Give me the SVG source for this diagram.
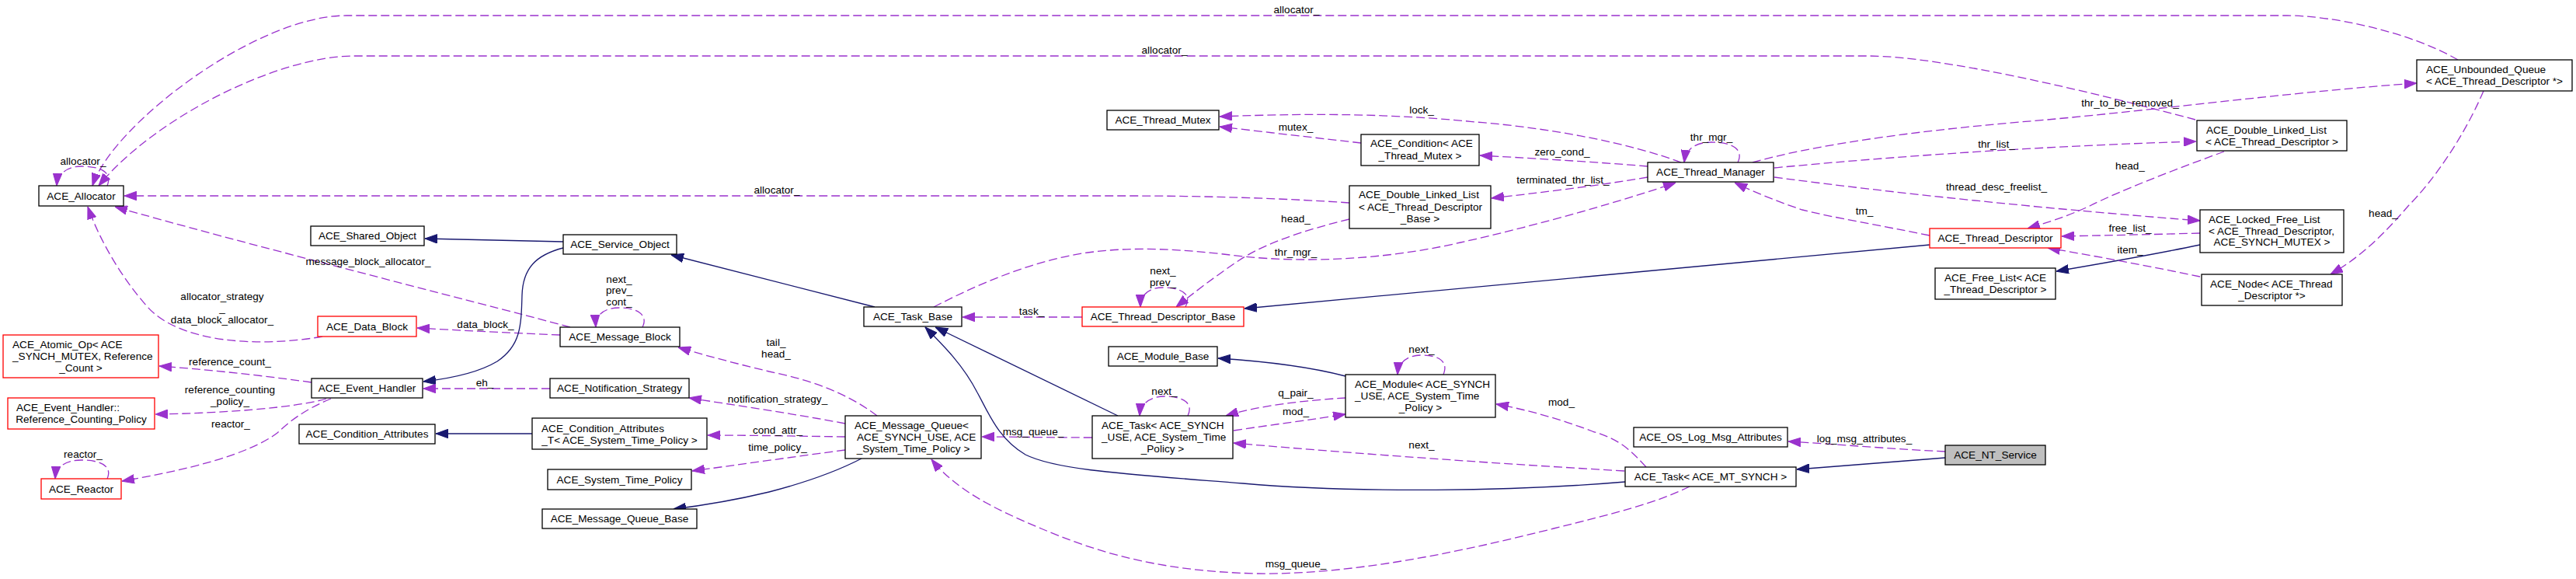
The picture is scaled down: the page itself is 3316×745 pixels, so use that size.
<svg xmlns="http://www.w3.org/2000/svg" width="3316" height="745" viewBox="0 0 3316 745">
<style>
text{font-family:"Liberation Sans",Arial,Helvetica,sans-serif;font-size:13.6px;fill:#000}
.n rect{fill:#fff;stroke:#000;stroke-width:1.3}
.r rect{stroke:#f00}
.g rect{fill:#bfbfbf}
.c{text-anchor:middle}
.s{text-anchor:start}
.u{fill:none;stroke:#9a32cd;stroke-width:1.3;stroke-dasharray:11,5;marker-end:url(#au)}
.i{fill:none;stroke:#191970;stroke-width:1.3;marker-end:url(#ai)}
.lbl text{text-anchor:middle}
</style>
<defs>
<marker id="au" markerUnits="userSpaceOnUse" markerWidth="16" markerHeight="12" refX="14" refY="5" orient="auto" viewBox="0 0 14 10"><path d="M0,0L14,5L0,10z" fill="#9a32cd" stroke="#9a32cd" stroke-width="1"/></marker>
<marker id="ai" markerUnits="userSpaceOnUse" markerWidth="16" markerHeight="12" refX="14" refY="5" orient="auto" viewBox="0 0 14 10"><path d="M0,0L14,5L0,10z" fill="#191970" stroke="#191970" stroke-width="1"/></marker>
</defs>
<rect width="3316" height="745" fill="#fff"/>
<g id="edges">
<path class="u" d="M138,239 C145,222 130,214 105,214 C86,214 74,224 73,239"/>
<path class="u" d="M3164,77 C3100,40 3000,20 2944,20 L446,20 C330,20 145,160 119,239"/>
<path class="u" d="M2826,154 C2700,120 2500,72 2405,72 L455,72 C360,72 200,150 127,239"/>
<path class="u" d="M1737,261 C1650,255 1550,252 1450,252 L160,252"/>
<path class="u" d="M734,421 C600,385 300,310 148,266"/>
<path class="u" d="M415,433 C330,448 230,440 190,395 C150,350 125,300 113,266"/>
<path class="u" d="M721,431 C650,428 590,425 537,422"/>
<path class="u" d="M827,421 C835,405 820,396 797,396 C778,396 766,405 767,421"/>
<path class="i" d="M725,311 L547,307"/>
<path class="i" d="M725,319 C690,328 673,345 672,380 C671,420 670,445 640,465 C615,480 580,487 545,491"/>
<path class="u" d="M401,492 C330,482 260,475 205,471"/>
<path class="u" d="M420,513 C380,525 280,532 200,533"/>
<path class="u" d="M426,513 C390,528 372,543 357,557 C320,585 240,605 157,619"/>
<path class="u" d="M138,616 C145,600 130,592 105,592 C85,592 72,600 71,616"/>
<path class="u" d="M708,500 L545,500"/>
<path class="i" d="M685,558 L561,558"/>
<path class="u" d="M1129,535 C1090,505 1040,488 990,478 C940,466 900,455 873,447"/>
<path class="u" d="M1088,545 C1020,532 950,522 887,512"/>
<path class="u" d="M1088,562 C1020,561 960,560 911,560"/>
<path class="u" d="M1088,579 C1020,588 950,598 891,606"/>
<path class="i" d="M1109,590 C1080,605 1040,620 990,633 C940,645 900,651 867,655"/>
<path class="u" d="M1406,563 C1350,563 1300,562 1264,562"/>
<path class="u" d="M2175,626 C2130,648 2080,660 2000,680 C1900,705 1750,740 1618,738 C1480,735 1400,705 1340,680 C1280,655 1230,630 1199,591"/>
<path class="i" d="M1439,535 L1204,421"/>
<path class="i" d="M2092,620 C1950,632 1750,635 1600,622 C1450,610 1360,605 1320,585 C1285,565 1272,530 1258,505 C1240,470 1215,445 1191,421"/>
<path class="i" d="M1126,395 L864,328"/>
<path class="u" d="M1393,408 L1239,408"/>
<path class="u" d="M1526,395 C1535,378 1520,370 1497,370 C1478,370 1468,380 1468,395"/>
<path class="u" d="M1737,282 C1680,296 1630,312 1595,335 C1565,355 1535,378 1514,395"/>
<path class="u" d="M1202,395 C1260,365 1330,335 1400,325 C1460,317 1520,320 1600,330 C1680,338 1780,335 1880,312 C1980,290 2100,255 2157,235"/>
<path class="i" d="M2484,315 L1602,397"/>
<path class="u" d="M2164,209 C2100,185 2000,165 1900,157 C1800,147 1700,145 1570,150"/>
<path class="u" d="M1752,184 C1700,178 1630,170 1570,163"/>
<path class="u" d="M2121,214 C2050,208 1960,203 1905,200"/>
<path class="u" d="M2121,228 C2050,240 1980,248 1920,255"/>
<path class="u" d="M2237,209 C2245,192 2230,183 2203,183 C2182,183 2170,192 2168,209"/>
<path class="u" d="M2484,303 C2420,290 2360,280 2320,270 C2290,260 2260,248 2233,235"/>
<path class="u" d="M2256,209 C2330,188 2450,170 2600,157 C2750,145 2950,118 3111,107"/>
<path class="u" d="M2284,216 C2450,200 2650,187 2827,182"/>
<path class="u" d="M2284,228 C2450,250 2650,270 2832,284"/>
<path class="u" d="M2863,195 C2800,218 2730,245 2690,265 C2660,279 2630,288 2610,294"/>
<path class="u" d="M2832,300 C2760,302 2700,303 2654,304"/>
<path class="i" d="M2832,315 C2770,328 2700,340 2647,349"/>
<path class="u" d="M2832,356 C2770,343 2700,330 2636,319"/>
<path class="u" d="M3197,117 C3170,180 3130,235 3100,265 C3070,300 3040,330 3000,353"/>
<path class="i" d="M1732,484 C1690,473 1630,465 1568,461"/>
<path class="u" d="M1858,482 C1865,465 1852,457 1830,457 C1812,457 1800,466 1799,482"/>
<path class="u" d="M1732,512 C1680,515 1620,522 1578,535"/>
<path class="u" d="M1588,554 C1640,546 1690,540 1732,533"/>
<path class="u" d="M1529,535 C1537,518 1522,510 1499,510 C1480,510 1468,520 1467,535"/>
<path class="u" d="M2091,606 C1900,595 1700,580 1588,570"/>
<path class="u" d="M2119,601 C2100,580 2085,565 2050,555 C2010,540 1970,528 1926,520"/>
<path class="u" d="M2504,581 C2440,578 2370,572 2302,568"/>
<path class="i" d="M2504,589 L2313,604"/>
</g>
<g id="edge-labels" class="lbl">
<text x="107" y="212">allocator_</text>
<text x="1669" y="17">allocator_</text>
<text x="1499" y="69">allocator_</text>
<text x="1000" y="249">allocator_</text>
<text x="474" y="341">message_block_allocator_</text>
<text x="286" y="386">allocator_strategy</text>
<text x="286" y="401">_</text>
<text x="286" y="416">data_block_allocator_</text>
<text x="625" y="422">data_block_</text>
<text x="296" y="470">reference_count_</text>
<text x="296" y="506">reference_counting</text>
<text x="296" y="521">_policy_</text>
<text x="297" y="550">reactor_</text>
<text x="107" y="589">reactor_</text>
<text x="624" y="497">eh_</text>
<text x="797" y="364">next_</text>
<text x="797" y="378">prev_</text>
<text x="797" y="393">cont_</text>
<text x="1328" y="405">task_</text>
<text x="999" y="445">tail_</text>
<text x="999" y="460">head_</text>
<text x="1001" y="518">notification_strategy_</text>
<text x="1001" y="558">cond_attr_</text>
<text x="1001" y="580">time_policy_</text>
<text x="1330" y="560">msg_queue_</text>
<text x="1668" y="730">msg_queue_</text>
<text x="1830" y="146">lock_</text>
<text x="1668" y="168">mutex_</text>
<text x="2011" y="200">zero_cond_</text>
<text x="2012" y="236">terminated_thr_list_</text>
<text x="1668" y="286">head_</text>
<text x="1668" y="329">thr_mgr_</text>
<text x="1497" y="353">next_</text>
<text x="1497" y="368">prev_</text>
<text x="1830" y="454">next_</text>
<text x="1499" y="508">next_</text>
<text x="1668" y="510">q_pair_</text>
<text x="1668" y="534">mod_</text>
<text x="2010" y="522">mod_</text>
<text x="1830" y="577">next_</text>
<text x="2203" y="181">thr_mgr_</text>
<text x="2570" y="190">thr_list_</text>
<text x="2570" y="245">thread_desc_freelist_</text>
<text x="2400" y="276">tm_</text>
<text x="2742" y="137">thr_to_be_removed_</text>
<text x="2742" y="218">head_</text>
<text x="2742" y="298">free_list_</text>
<text x="2742" y="326">item_</text>
<text x="3068" y="279">head_</text>
<text x="2400" y="569">log_msg_attributes_</text>
</g>
<g id="ACE_Allocator" class="n"><rect x="50" y="239" width="109" height="26"/><text class="c" x="104.5" y="257">ACE_Allocator</text></g>
<g id="ACE_Shared_Object" class="n"><rect x="400" y="291" width="146" height="25"/><text class="c" x="473" y="308">ACE_Shared_Object</text></g>
<g id="ACE_Data_Block" class="n r"><rect x="409" y="407" width="127" height="26"/><text class="c" x="472.5" y="425">ACE_Data_Block</text></g>
<g id="ACE_Atomic_Op" class="n r"><rect x="4" y="431" width="200" height="55"/><text class="s" x="16" y="448">ACE_Atomic_Op&lt; ACE</text><text class="s" x="16" y="463">_SYNCH_MUTEX, Reference</text><text class="c" x="104" y="478">_Count &gt;</text></g>
<g id="ACE_Event_Handler" class="n"><rect x="401" y="487" width="143" height="25"/><text class="c" x="472.5" y="504">ACE_Event_Handler</text></g>
<g id="ACE_Event_Handler_Reference_Counting_Policy" class="n r"><rect x="10" y="512" width="189" height="40"/><text class="s" x="21" y="529">ACE_Event_Handler::</text><text class="c" x="104.5" y="544">Reference_Counting_Policy</text></g>
<g id="ACE_Reactor" class="n r"><rect x="53" y="616" width="103" height="26"/><text class="c" x="104.5" y="634">ACE_Reactor</text></g>
<g id="ACE_Condition_Attributes" class="n"><rect x="385" y="546" width="175" height="25"/><text class="c" x="472.5" y="563">ACE_Condition_Attributes</text></g>
<g id="ACE_Service_Object" class="n"><rect x="725" y="302" width="146" height="25"/><text class="c" x="798" y="319">ACE_Service_Object</text></g>
<g id="ACE_Message_Block" class="n"><rect x="721" y="421" width="154" height="25"/><text class="c" x="798" y="438">ACE_Message_Block</text></g>
<g id="ACE_Task_Base" class="n"><rect x="1112" y="395" width="126" height="25"/><text class="c" x="1175" y="412">ACE_Task_Base</text></g>
<g id="ACE_Notification_Strategy" class="n"><rect x="708" y="487" width="179" height="25"/><text class="c" x="797.5" y="504">ACE_Notification_Strategy</text></g>
<g id="ACE_Condition_Attributes_T" class="n"><rect x="685" y="538" width="225" height="40"/><text class="s" x="697" y="556">ACE_Condition_Attributes</text><text class="c" x="797.5" y="571">_T&lt; ACE_System_Time_Policy &gt;</text></g>
<g id="ACE_System_Time_Policy" class="n"><rect x="705" y="604" width="185" height="26"/><text class="c" x="797.5" y="622">ACE_System_Time_Policy</text></g>
<g id="ACE_Message_Queue_Base" class="n"><rect x="698" y="655" width="199" height="25"/><text class="c" x="797.5" y="672">ACE_Message_Queue_Base</text></g>
<g id="ACE_Message_Queue" class="n"><rect x="1088" y="535" width="175" height="55"/><text class="s" x="1100" y="552">ACE_Message_Queue&lt;</text><text class="s" x="1103" y="567">ACE_SYNCH_USE, ACE</text><text class="c" x="1175.5" y="582">_System_Time_Policy &gt;</text></g>
<g id="ACE_Thread_Mutex" class="n"><rect x="1425" y="142" width="144" height="25"/><text class="c" x="1497" y="159">ACE_Thread_Mutex</text></g>
<g id="ACE_Condition" class="n"><rect x="1752" y="173" width="152" height="40"/><text class="s" x="1764" y="189">ACE_Condition&lt; ACE</text><text class="c" x="1828" y="205">_Thread_Mutex &gt;</text></g>
<g id="ACE_Double_Linked_List_TDB" class="n"><rect x="1737" y="239" width="182" height="55"/><text class="s" x="1749" y="255">ACE_Double_Linked_List</text><text class="s" x="1749" y="271">&lt; ACE_Thread_Descriptor</text><text class="c" x="1828" y="286">_Base &gt;</text></g>
<g id="ACE_Thread_Descriptor_Base" class="n r"><rect x="1393" y="395" width="208" height="25"/><text class="c" x="1497" y="412">ACE_Thread_Descriptor_Base</text></g>
<g id="ACE_Module_Base" class="n"><rect x="1427" y="446" width="140" height="25"/><text class="c" x="1497" y="463">ACE_Module_Base</text></g>
<g id="ACE_Module" class="n"><rect x="1732" y="482" width="193" height="55"/><text class="s" x="1744" y="499">ACE_Module&lt; ACE_SYNCH</text><text class="s" x="1744" y="514">_USE, ACE_System_Time</text><text class="c" x="1828.5" y="529">_Policy &gt;</text></g>
<g id="ACE_Task_SYNCH_USE" class="n"><rect x="1406" y="535" width="181" height="55"/><text class="s" x="1418" y="552">ACE_Task&lt; ACE_SYNCH</text><text class="s" x="1418" y="567">_USE, ACE_System_Time</text><text class="c" x="1496.5" y="582">_Policy &gt;</text></g>
<g id="ACE_Thread_Manager" class="n"><rect x="2121" y="209" width="162" height="25"/><text class="c" x="2202" y="226">ACE_Thread_Manager</text></g>
<g id="ACE_Thread_Descriptor" class="n r"><rect x="2484" y="294" width="169" height="25"/><text class="c" x="2568.5" y="311">ACE_Thread_Descriptor</text></g>
<g id="ACE_Free_List" class="n"><rect x="2491" y="345" width="155" height="40"/><text class="s" x="2503" y="362">ACE_Free_List&lt; ACE</text><text class="c" x="2568.5" y="377">_Thread_Descriptor &gt;</text></g>
<g id="ACE_Unbounded_Queue" class="n"><rect x="3111" y="77" width="200" height="40"/><text class="s" x="3123" y="94">ACE_Unbounded_Queue</text><text class="c" x="3211" y="109">&lt; ACE_Thread_Descriptor *&gt;</text></g>
<g id="ACE_Double_Linked_List_TD" class="n"><rect x="2828" y="155" width="193" height="39"/><text class="s" x="2840" y="172">ACE_Double_Linked_List</text><text class="c" x="2924.5" y="187">&lt; ACE_Thread_Descriptor &gt;</text></g>
<g id="ACE_Locked_Free_List" class="n"><rect x="2832" y="270" width="185" height="55"/><text class="s" x="2843" y="287">ACE_Locked_Free_List</text><text class="s" x="2843" y="302">&lt; ACE_Thread_Descriptor,</text><text class="c" x="2924.5" y="316">ACE_SYNCH_MUTEX &gt;</text></g>
<g id="ACE_Node" class="n"><rect x="2834" y="353" width="181" height="40"/><text class="s" x="2845" y="370">ACE_Node&lt; ACE_Thread</text><text class="c" x="2924.5" y="385">_Descriptor *&gt;</text></g>
<g id="ACE_OS_Log_Msg_Attributes" class="n"><rect x="2103" y="550" width="198" height="25"/><text class="c" x="2202" y="567">ACE_OS_Log_Msg_Attributes</text></g>
<g id="ACE_NT_Service" class="n g"><rect x="2504" y="573" width="129" height="25"/><text class="c" x="2568.5" y="590">ACE_NT_Service</text></g>
<g id="ACE_Task_MT_SYNCH" class="n"><rect x="2092" y="601" width="220" height="25"/><text class="c" x="2202" y="618">ACE_Task&lt; ACE_MT_SYNCH &gt;</text></g>
</svg>
